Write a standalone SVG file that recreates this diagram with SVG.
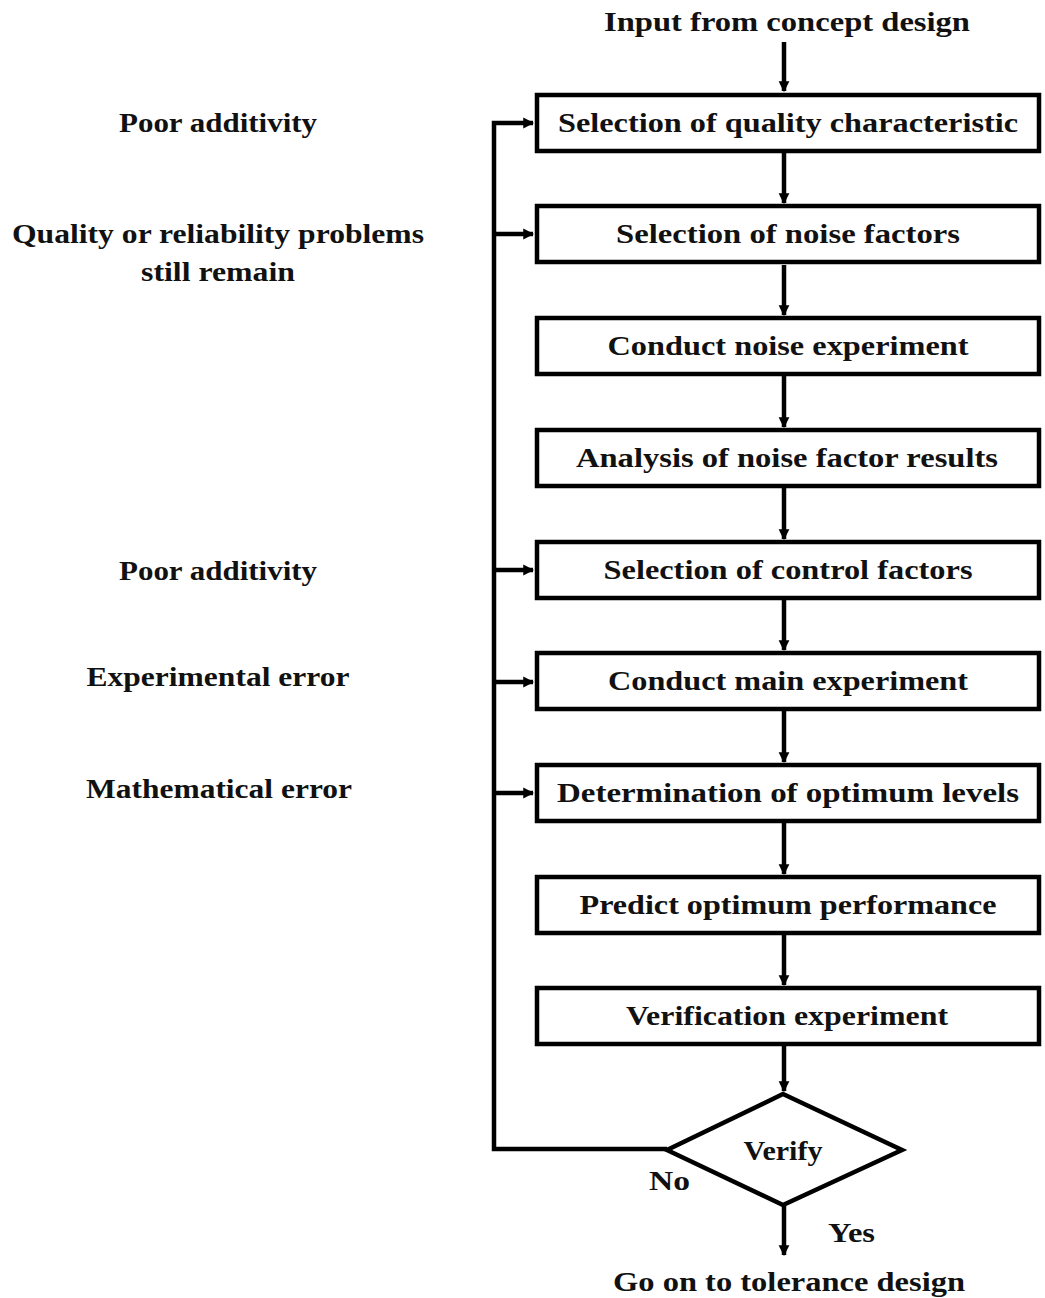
<svg xmlns="http://www.w3.org/2000/svg" width="1045" height="1298" viewBox="0 0 1045 1298">
  <style>
    text { font-family: "Liberation Serif", "Times New Roman", serif; font-weight: bold; font-size: 28px; fill: #111; }
    .mid { text-anchor: middle; }
    .box { fill: #fff; stroke: #000; stroke-width: 4.5; }
    .wire { fill: none; stroke: #000; stroke-width: 4.5; }
  </style>
  <defs>
    <marker id="head" viewBox="0 0 10 10" refX="9" refY="5" markerWidth="2.4" markerHeight="2.6" orient="auto" markerUnits="strokeWidth">
      <path d="M0,0 L10,5 L0,10 Z" fill="#000"/>
    </marker>
  </defs>

  <rect width="1045" height="1298" fill="#fff"/>

  <!-- side labels -->
  <g id="labels">
    <text class="mid" x="218" y="132" textLength="198" lengthAdjust="spacingAndGlyphs">Poor additivity</text>
    <text class="mid" x="218" y="243" textLength="412" lengthAdjust="spacingAndGlyphs">Quality or reliability problems</text>
    <text class="mid" x="218" y="281" textLength="154" lengthAdjust="spacingAndGlyphs">still remain</text>
    <text class="mid" x="218" y="580" textLength="198" lengthAdjust="spacingAndGlyphs">Poor additivity</text>
    <text class="mid" x="218" y="686" textLength="263" lengthAdjust="spacingAndGlyphs">Experimental error</text>
    <text class="mid" x="219" y="798" textLength="266" lengthAdjust="spacingAndGlyphs">Mathematical error</text>
  </g>

  <g id="input"><text class="mid" x="787" y="31" textLength="366" lengthAdjust="spacingAndGlyphs">Input from concept design</text></g>
  <g id="output"><text class="mid" x="789" y="1291" textLength="352" lengthAdjust="spacingAndGlyphs">Go on to tolerance design</text></g>

  <!-- connectors -->
  <g id="connectors">
    <line class="wire" x1="784" y1="42" x2="784" y2="91" marker-end="url(#head)"/>
    <line class="wire" x1="784" y1="153" x2="784" y2="203" marker-end="url(#head)"/>
    <line class="wire" x1="784" y1="265" x2="784" y2="315" marker-end="url(#head)"/>
    <line class="wire" x1="784" y1="376" x2="784" y2="427" marker-end="url(#head)"/>
    <line class="wire" x1="784" y1="488" x2="784" y2="539" marker-end="url(#head)"/>
    <line class="wire" x1="784" y1="600" x2="784" y2="650" marker-end="url(#head)"/>
    <line class="wire" x1="784" y1="711" x2="784" y2="762" marker-end="url(#head)"/>
    <line class="wire" x1="784" y1="823" x2="784" y2="874" marker-end="url(#head)"/>
    <line class="wire" x1="784" y1="935" x2="784" y2="985" marker-end="url(#head)"/>
    <line class="wire" x1="784" y1="1046" x2="784" y2="1091" marker-end="url(#head)"/>
    <line class="wire" x1="784" y1="1206" x2="784" y2="1255" marker-end="url(#head)"/>
    <!-- feedback loop -->
    <polyline class="wire" points="667,1149 494,1149 494,123 533,123" marker-end="url(#head)"/>
    <line class="wire" x1="494" y1="234" x2="533" y2="234" marker-end="url(#head)"/>
    <line class="wire" x1="494" y1="570" x2="533" y2="570" marker-end="url(#head)"/>
    <line class="wire" x1="494" y1="682" x2="533" y2="682" marker-end="url(#head)"/>
    <line class="wire" x1="494" y1="793" x2="533" y2="793" marker-end="url(#head)"/>
  </g>

  <g id="n1"><rect class="box" x="537" y="95" width="502" height="56"/><text class="mid" x="788" y="132" textLength="460" lengthAdjust="spacingAndGlyphs">Selection of quality characteristic</text></g>
  <g id="n2"><rect class="box" x="537" y="206" width="502" height="56"/><text class="mid" x="788" y="243" textLength="344" lengthAdjust="spacingAndGlyphs">Selection of noise factors</text></g>
  <g id="n3"><rect class="box" x="537" y="318" width="502" height="56"/><text class="mid" x="788" y="355" textLength="361" lengthAdjust="spacingAndGlyphs">Conduct noise experiment</text></g>
  <g id="n4"><rect class="box" x="537" y="430" width="502" height="56"/><text class="mid" x="787" y="467" textLength="422" lengthAdjust="spacingAndGlyphs">Analysis of noise factor results</text></g>
  <g id="n5"><rect class="box" x="537" y="542" width="502" height="56"/><text class="mid" x="788" y="579" textLength="369" lengthAdjust="spacingAndGlyphs">Selection of control factors</text></g>
  <g id="n6"><rect class="box" x="537" y="653" width="502" height="56"/><text class="mid" x="788" y="690" textLength="360" lengthAdjust="spacingAndGlyphs">Conduct main experiment</text></g>
  <g id="n7"><rect class="box" x="537" y="765" width="502" height="56"/><text class="mid" x="788" y="802" textLength="462" lengthAdjust="spacingAndGlyphs">Determination of optimum levels</text></g>
  <g id="n8"><rect class="box" x="537" y="877" width="502" height="56"/><text class="mid" x="788" y="914" textLength="417" lengthAdjust="spacingAndGlyphs">Predict optimum performance</text></g>
  <g id="n9"><rect class="box" x="537" y="988" width="502" height="56"/><text class="mid" x="787" y="1025" textLength="322" lengthAdjust="spacingAndGlyphs">Verification experiment</text></g>

  <g id="verify">
    <polygon class="box" points="783,1094 902,1150 783,1205 667,1150"/>
    <text class="mid" x="783" y="1160" textLength="79" lengthAdjust="spacingAndGlyphs">Verify</text>
  </g>
  <text x="649" y="1190" textLength="41" lengthAdjust="spacingAndGlyphs">No</text>
  <text x="828" y="1242" textLength="47" lengthAdjust="spacingAndGlyphs">Yes</text>
</svg>
